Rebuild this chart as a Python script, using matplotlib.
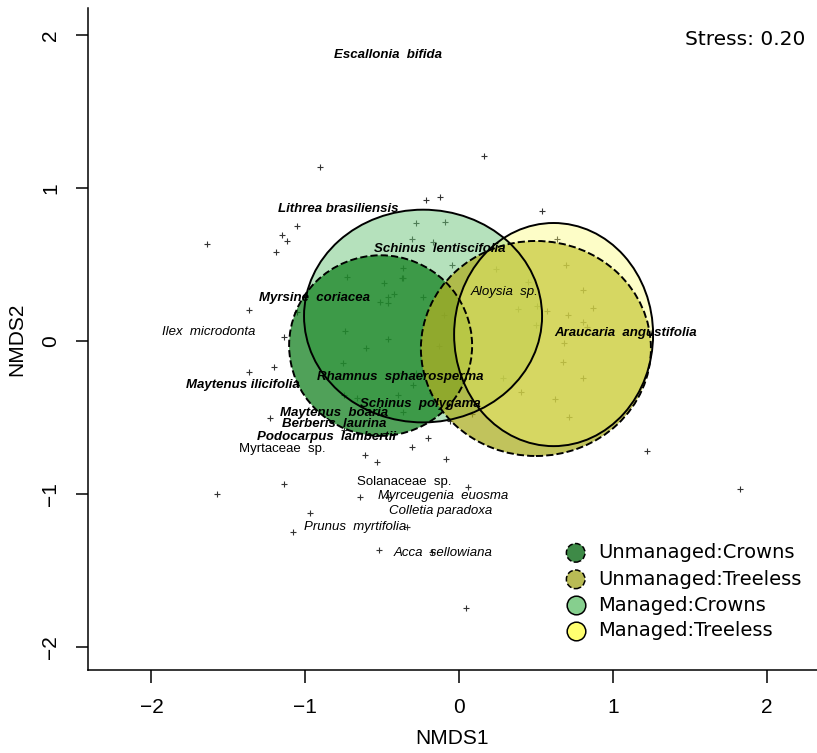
import matplotlib
matplotlib.use("Agg")
import matplotlib.pyplot as plt
from matplotlib.patches import Ellipse

plt.rcParams["font.family"] = ["Liberation Sans", "DejaVu Sans"]

# site scores (NMDS1, NMDS2)
site_x = [-0.904, 0.163, -0.215, -0.124, -1.054, -1.151, -1.119, -1.190, -1.639, -0.280,
          -0.091, -0.306, -0.169, 0.540, 0.637, -0.364, -0.364, -0.046, -0.234, 0.241,
          0.696, 0.449, 0.807, 0.872, 0.384, 0.572, 0.507, 0.709, 0.807, 0.501,
          -0.098, 0.833, 0.683, 0.676, -0.130, 0.807, 0.286, 0.403, 0.624, 0.715,
          0.085, -0.059, -0.280, -0.299, -0.176, -0.202, -0.306, -0.085, 1.223, 1.828,
          -0.728, -0.488, -0.371, -0.423, -0.462, -0.514, -0.462, -1.366, -1.054, -0.741,
          -0.462, -1.138, -0.605, -0.754, -1.366, -1.203, -0.371, -0.748, -0.397, -0.663,
          -0.364, -1.229, -0.748, -0.611, -0.533, -1.138, -1.574, 0.059, -0.644, -0.462,
          -0.969, -1.080, -0.520, -0.338, -0.176, 0.046]
site_y = [1.137, 1.209, 0.922, 0.941, 0.752, 0.693, 0.654, 0.582, 0.634, 0.771,
          0.778, 0.667, 0.647, 0.850, 0.667, 0.477, 0.412, 0.497, 0.288, 0.471,
          0.497, 0.386, 0.333, 0.216, 0.209, 0.196, 0.229, 0.170, 0.124, 0.105,
          0.170, 0.092, -0.013, -0.137, -0.033, -0.242, -0.242, -0.333, -0.379, -0.497,
          -0.477, -0.523, -0.209, -0.288, -0.340, -0.634, -0.693, -0.771, -0.719, -0.967,
          0.418, 0.379, 0.412, 0.307, 0.288, 0.255, 0.248, 0.203, 0.190, 0.065,
          0.013, 0.026, -0.046, -0.144, -0.203, -0.170, -0.209, -0.353, -0.353, -0.373,
          -0.464, -0.503, -0.582, -0.745, -0.791, -0.935, -1.000, -0.954, -1.020, -1.020,
          -1.124, -1.248, -1.366, -1.216, -1.379, -1.745]

# species scores
species = ["Escallonia  bifida", "Lithrea brasiliensis", "Schinus  lentiscifolia",
           "Myrsine  coriacea", "Aloysia  sp.", "Ilex  microdonta", "Araucaria  angustifolia",
           "Rhamnus  sphaerosperma", "Maytenus ilicifolia", "Schinus  polygama",
           "Maytenus  boaria", "Berberis  laurina", "Podocarpus  lambertii", "Myrtaceae  sp.",
           "Solanaceae  sp.", "Myrceugenia  euosma", "Colletia paradoxa",
           "Prunus  myrtifolia", "Acca  sellowiana"]
sp_x = [-0.462, -0.787, -0.124, -0.943, 0.299, -1.626, 1.086, -0.384, -1.405, -0.254,
        -0.813, -0.813, -0.865, -1.151, -0.358, -0.104, -0.117, -0.676, -0.104]
sp_y = [1.869, 0.863, 0.601, 0.281, 0.320, 0.059, 0.052, -0.235, -0.288, -0.412,
        -0.471, -0.542, -0.627, -0.706, -0.922, -1.013, -1.111, -1.216, -1.386]
sp_style = ["bi", "bi", "bi", "bi", "i", "i", "bi", "bi", "bi", "bi",
            "bi", "bi", "bi", "n", "n", "i", "i", "i", "i"]

# group ellipses (centre, width, height)
groups = ["Unmanaged:Crowns", "Unmanaged:Treeless", "Managed:Crowns", "Managed:Treeless"]
ell_cx = [-0.51, 0.50, -0.234, 0.615]
ell_cy = [-0.03, -0.049, 0.163, 0.042]
ell_w = [1.19, 1.496, 1.548, 1.294]
ell_h = [1.18, 1.405, 1.39, 1.458]
colors = ["#158221", "#adaf25", "#6cc57a", "#fafa6e"]
alphas = [0.75, 0.75, 0.5, 0.38]
styles = ["--", "--", "-", "-"]
draw_order = [2, 0, 1, 3]
legend_colors = ["#3e8a47", "#b9bb55", "#86cf8e", "#ffff70"]

fig = plt.figure(figsize=(8.17, 7.53), dpi=100)
ax = fig.add_axes([0.1077, 0.1102, 0.8923, 0.8792])

ax.plot(site_x, site_y, "+", color="#333333", ms=5, mew=0.8, zorder=1)

for i in draw_order:
    e = Ellipse((ell_cx[i], ell_cy[i]), ell_w[i], ell_h[i],
                facecolor=colors[i], alpha=alphas[i], edgecolor="none", zorder=2)
    ax.add_patch(e)
    e2 = Ellipse((ell_cx[i], ell_cy[i]), ell_w[i], ell_h[i],
                 facecolor="none", edgecolor="black", lw=1.4, ls=styles[i], zorder=3)
    ax.add_patch(e2)

for name, x, y, st in zip(species, sp_x, sp_y, sp_style):
    ax.text(x, y, name, ha="center", va="center", fontsize=9.5,
            fontweight="bold" if st == "bi" else "normal",
            fontstyle="normal" if st == "n" else "italic", zorder=4)

ax.set_xlim(-2.413, 2.328)
ax.set_ylim(-2.150, 2.176)
ax.set_xticks([-2, -1, 0, 1, 2])
ax.set_yticks([-2, -1, 0, 1, 2])
ax.set_xticklabels(["\u22122", "\u22121", "0", "1", "2"], fontsize=15)
ax.set_yticklabels(["\u22122", "\u22121", "0", "1", "2"], fontsize=15,
                   rotation=90, va="center")
ax.tick_params(direction="out", length=9, width=1.1, pad=11)
ax.spines["top"].set_visible(False)
ax.spines["right"].set_visible(False)
ax.spines["left"].set_linewidth(1.1)
ax.spines["bottom"].set_linewidth(1.1)
ax.set_xlabel("NMDS1", fontsize=15, labelpad=9)
ax.set_ylabel("NMDS2", fontsize=15, labelpad=11)

ax.text(0.984, 0.952, "Stress: 0.20", transform=ax.transAxes, ha="right", va="center",
        family="DejaVu Sans", fontsize=14.5)

# legend
leg_y = [0.177, 0.137, 0.098, 0.059]
for i, g in enumerate(groups):
    ax.scatter([0.669], [leg_y[i]], s=180, marker="o", transform=ax.transAxes,
               facecolor=legend_colors[i], edgecolor="black", linewidths=1.1,
               linestyle=styles[i], zorder=5, clip_on=False)
    ax.text(0.700, leg_y[i], g, transform=ax.transAxes, ha="left", va="center",
            family="DejaVu Sans", fontsize=14, zorder=5)

fig.savefig("out.png", dpi=100)
